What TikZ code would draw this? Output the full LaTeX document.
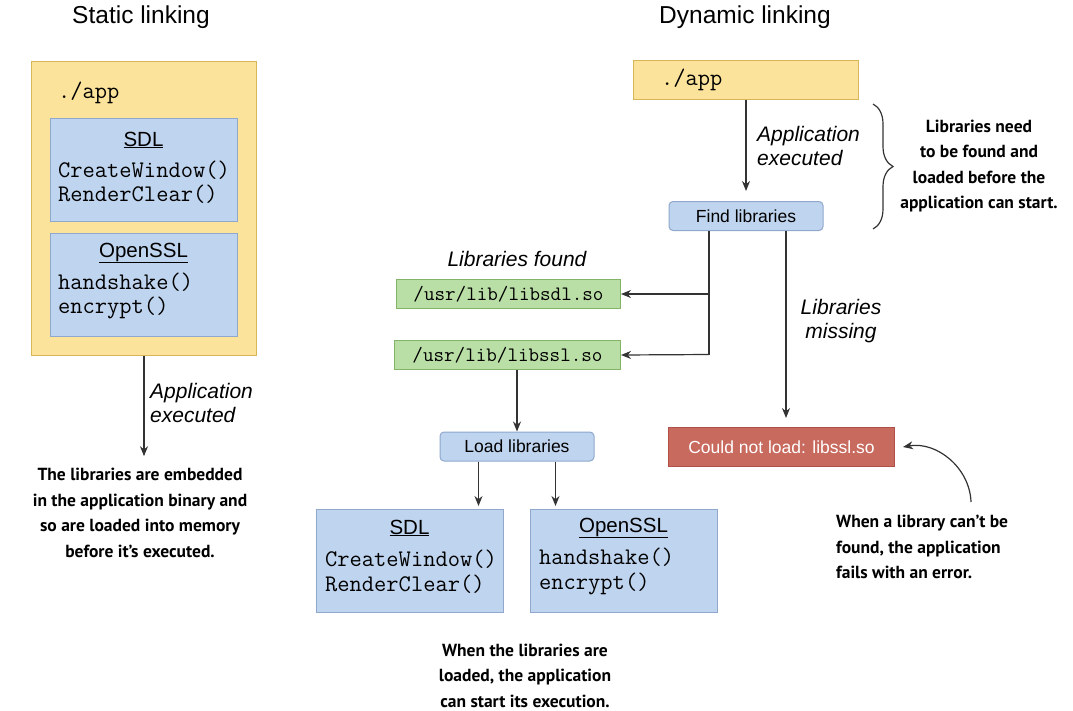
\documentclass[tikz,border=0pt]{standalone}
\usepackage{fontspec}
\setmainfont{Liberation Sans}
\newfontfamily\notefont{PT Sans}
\usetikzlibrary{arrows.meta,decorations.pathreplacing}

\definecolor{appfill}{HTML}{FCE39C}
\definecolor{appline}{HTML}{D6B656}
\definecolor{libfill}{HTML}{BFD4EE}
\definecolor{libline}{HTML}{8FA8CC}
\definecolor{pathfill}{HTML}{B9DFA6}
\definecolor{pathline}{HTML}{82B366}
\definecolor{errfill}{HTML}{C86A5E}
\definecolor{errline}{HTML}{B05048}
\definecolor{wire}{HTML}{333333}

\begin{document}
\begin{tikzpicture}[x=1pt,y=-1pt,
  title/.style={font=\fontsize{24.5}{28}\selectfont},
  head/.style={font=\fontsize{20.5}{24}\selectfont},
  lbl/.style={font=\fontsize{21}{24}\selectfont\itshape, align=left, inner sep=0pt},
  code/.style={font=\fontsize{23.8}{24.5}\selectfont\ttfamily, align=left, inner sep=0pt},
  pathtxt/.style={font=\fontsize{20.5}{22}\selectfont\ttfamily},
  note/.style={font=\notefont\bfseries\fontsize{17.5}{25.5}\selectfont, align=center, inner sep=0pt},
  appbox/.style={draw=appline, fill=appfill, line width=1pt, anchor=north west},
  libbox/.style={draw=libline, fill=libfill, line width=1pt, anchor=north west,
    minimum width=187pt, minimum height=103pt},
  pathbox/.style={draw=pathline, fill=pathfill, line width=1pt, anchor=north west,
    minimum height=29pt, inner sep=0pt, pathtxt},
  stepbox/.style={draw=libline, fill=libfill, line width=1pt, rounded corners=4pt,
    minimum width=154pt, minimum height=29pt, font=\fontsize{17.5}{21}\selectfont},
  errbox/.style={draw=errline, fill=errfill, line width=1pt, anchor=north west,
    minimum width=226pt, minimum height=39pt, text=white, font=\fontsize{17.5}{21}\selectfont},
  arr/.style={draw=wire, line width=1.2pt, -{Stealth[length=10pt,width=8pt]}},
  wireline/.style={draw=wire, line width=1.2pt}]

\useasboundingbox (0,0) rectangle (1073,710);

% static linking
\node[title] (titleS) at (141,17) {Static linking};
\node[appbox, minimum width=225pt, minimum height=294pt] (appS) at (31,61) {};
\node[code, anchor=west] (exeS) at (58,93) {./app};
\node[libbox] (sdlS) at (50,118) {};
\node[head] (sdlheadS) at (143.5,140) {\underline{SDL}};
\node[code, anchor=west] (sdlfnS) at (58,182) {CreateWindow()\\RenderClear()};
\node[libbox] (sslS) at (50,233) {};
\node[head] (sslheadS) at (143.5,253) {\underline{OpenSSL}};
\node[code, anchor=west] (sslfnS) at (58,296) {handshake()\\encrypt()};

\node[note] (staticnote) at (140,513) {The libraries are embedded\\in the application binary and\\so are loaded into memory\\before it’s executed.};
\draw[arr, shorten >=12pt] (appS.south) -- (appS.south |- staticnote.north);
\node[lbl, anchor=west] (execS) at (150,403) {Application\\executed};

% dynamic linking
\node[title] (titleD) at (745,17) {Dynamic linking};
\node[appbox, minimum width=225pt, minimum height=39pt] (appD) at (633,60) {};
\node[code, anchor=west] (exeD) at (661,80) {./app};
\node[stepbox] (findlib) at (746,216) {Find libraries};
\draw[arr, shorten >=10pt] (appD.south) -- (appD.south |- findlib.north);
\node[lbl, anchor=west] (execD) at (757,146) {Application\\executed};

\draw[wireline, decorate, decoration={brace, amplitude=20pt}] (873,104) -- (873,229);
\node[note] (neednote) at (979,166) {Libraries need\\to be found and\\loaded before the\\application can start.};

\node[lbl, anchor=center] (foundlbl) at (517,259) {Libraries found};
\node[pathbox, minimum width=224pt] (sdlpath) at (396,279) {/usr/lib/libsdl.so};
\node[pathbox, minimum width=226pt] (sslpath) at (394,340) {/usr/lib/libssl.so};

\coordinate (split) at (709,354.5);
\draw[wireline] (findlib.south -| split) -- (split);
\draw[arr] (split |- sdlpath.east) -- (sdlpath.east);
\draw[arr] (split) -- (sslpath.east);

\node[errbox] (errbox) at (668,427) {Could not load: libssl.so};
\draw[arr, shorten >=9pt] ([xshift=40pt]findlib.south) -- ([xshift=40pt]findlib.south |- errbox.north);
\node[lbl, align=center] (missinglbl) at (841,321) {Libraries\\missing};

\node[stepbox] (loadlib) at (517,446.5) {Load libraries};
\draw[arr] (sslpath.south -| loadlib) -- (loadlib.north);

\node[libbox] (sdlD) at (316,509) {};
\node[head] (sdlheadD) at (409.5,528) {\underline{SDL}};
\node[code, anchor=west] (sdlfnD) at (325,571.5) {CreateWindow()\\RenderClear()};
\node[libbox] (sslD) at (530,509) {};
\node[head] (sslheadD) at (623.5,528) {\underline{OpenSSL}};
\node[code, anchor=west] (sslfnD) at (539,571.5) {handshake()\\encrypt()};

\draw[arr, shorten >=3pt] ([xshift=-38.5pt]loadlib.south) -- ([xshift=-38.5pt]loadlib.south |- sdlD.north);
\draw[arr, shorten >=3pt] ([xshift=38.5pt]loadlib.south) -- ([xshift=38.5pt]loadlib.south |- sslD.north);

\node[note] (loadnote) at (525,675.5) {When the libraries are\\loaded, the application\\can start its execution.};

\node[note, align=left, anchor=west] (errnote) at (836,547) {When a library can’t be\\found, the application\\fails with an error.};
\coordinate (errtail) at (971,502);
\draw[arr] (errtail) to[out=92, in=10] ([xshift=8pt]errbox.east);

\end{tikzpicture}
\end{document}
